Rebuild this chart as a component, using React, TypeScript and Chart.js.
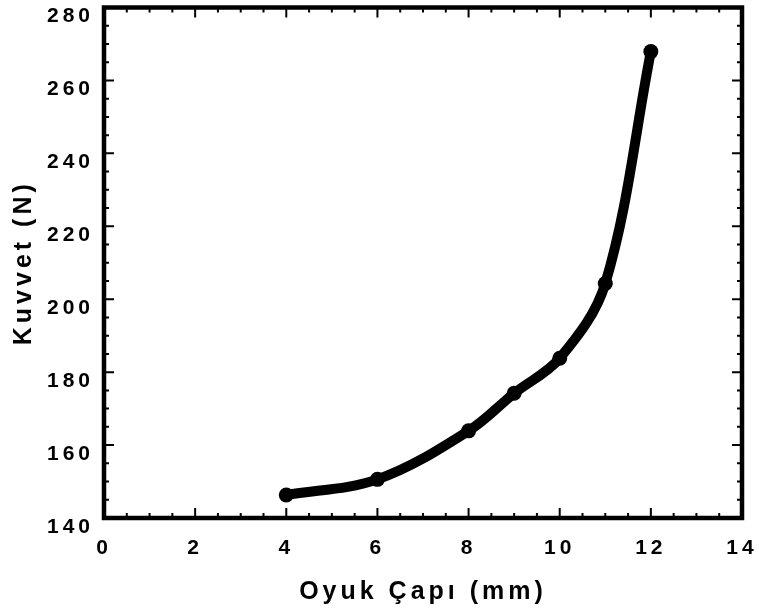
import React, { useEffect, useRef } from "react";
import { Chart, registerables } from "chart.js";

Chart.register(...registerables);

const diameters = [4, 6, 8, 9, 10, 11, 12];
const forces = [146.3, 150.6, 163.9, 174.2, 183.8, 204.3, 267.9];
const xTitle = "Oyuk Çapı (mm)";
const yTitle = "Kuvvet (N)";

const FONT = "'Liberation Sans', Arial, sans-serif";

const framePlugin = {
  id: "frame",
  beforeInit(chart: any) {
    (chart.ctx as any).letterSpacing = "4px";
  },
  beforeLayout(chart: any) {
    (chart.ctx as any).letterSpacing = "4px";
  },
  beforeDraw(chart: any) {
    (chart.ctx as any).letterSpacing = "4px";
  },
  afterDraw(chart: any) {
    const { ctx, chartArea } = chart;
    const xs = chart.scales.x;
    const ys = chart.scales.y;
    const { left, right, top, bottom } = chartArea;
    ctx.save();
    ctx.strokeStyle = "#000";
    ctx.lineWidth = 2;
    for (let v = 0; v <= 14.001; v += 0.5) {
      const px = xs.getPixelForValue(v);
      const len = Math.abs(v % 2) < 1e-6 ? 10 : 5;
      ctx.beginPath();
      ctx.moveTo(px, bottom);
      ctx.lineTo(px, bottom - len);
      ctx.moveTo(px, top);
      ctx.lineTo(px, top + len);
      ctx.stroke();
    }
    for (let v = 140; v <= 280.001; v += 5) {
      const py = ys.getPixelForValue(v);
      const len = Math.abs((v - 140) % 20) < 1e-6 ? 10 : 5;
      ctx.beginPath();
      ctx.moveTo(left, py);
      ctx.lineTo(left + len, py);
      ctx.moveTo(right, py);
      ctx.lineTo(right - len, py);
      ctx.stroke();
    }
    ctx.lineWidth = 4.5;
    ctx.strokeRect(left, top, right - left, bottom - top);
    ctx.restore();
  },
};

export default function App() {
  const ref = useRef<HTMLCanvasElement | null>(null);

  useEffect(() => {
    if (!ref.current) return;
    const chart = new Chart(ref.current, {
      type: "line",
      data: {
        datasets: [
          {
            data: diameters.map((d, i) => ({ x: d, y: forces[i] })),
            borderColor: "#000",
            backgroundColor: "#000",
            borderWidth: 10,
            pointRadius: 7.5,
            pointBorderWidth: 0,
            pointBackgroundColor: "#000",
            tension: 0.35,
            fill: false,
            clip: false as any,
          },
        ],
      },
      options: {
        responsive: false,
        animation: false,
        devicePixelRatio: 1,
        layout: { padding: { left: 0, top: 6, right: 17, bottom: 0 } },
        plugins: {
          legend: { display: false },
          tooltip: { enabled: false },
          title: { display: false },
        },
        scales: {
          x: {
            type: "linear",
            min: 0,
            max: 14,
            grid: { display: false, drawTicks: false },
            border: { display: false },
            ticks: {
              stepSize: 2,
              padding: 18,
              color: "#000",
              font: { family: FONT, size: 21, weight: "bold" },
            },
            title: {
              display: true,
              text: xTitle,
              color: "#000",
              padding: { top: 2, bottom: 9 },
              font: { family: FONT, size: 25, weight: "bold" },
            },
            afterFit(scale: any) {
              scale.height = 98;
              scale.paddingLeft = 0;
              scale.paddingRight = 0;
            },
          },
          y: {
            type: "linear",
            min: 140,
            max: 280,
            grid: { display: false, drawTicks: false },
            border: { display: false },
            ticks: {
              stepSize: 20,
              padding: 10,
              labelOffset: 9,
              color: "#000",
              font: { family: FONT, size: 21, weight: "bold" },
            },
            title: {
              display: true,
              text: yTitle,
              color: "#000",
              padding: { top: 9, bottom: 0 },
              font: { family: FONT, size: 25, weight: "bold" },
            },
            afterFit(scale: any) {
              scale.width = 104;
              scale.paddingTop = 0;
              scale.paddingBottom = 0;
            },
          },
        },
      },
      plugins: [framePlugin],
    });
    return () => chart.destroy();
  }, []);

  return (
    <div
      style={{
        position: "fixed",
        left: 0,
        top: 0,
        width: 759,
        height: 616,
        background: "#fff",
      }}
    >
      <canvas ref={ref} width={759} height={616} />
    </div>
  );
}
